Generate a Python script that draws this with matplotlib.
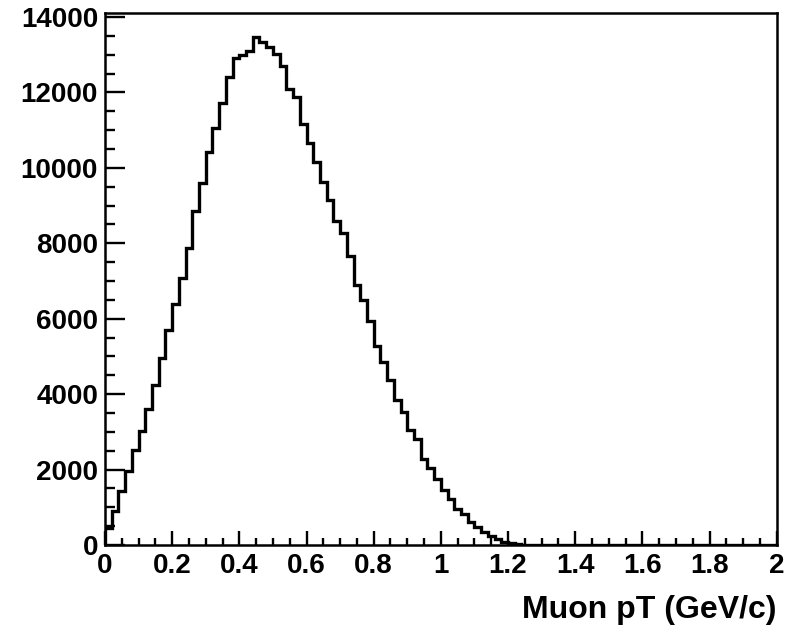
import numpy as np
import matplotlib
matplotlib.use("Agg")
import matplotlib.pyplot as plt
from matplotlib.ticker import MultipleLocator, FormatStrFormatter

# bin contents, 100 bins of 0.02 GeV/c between 0 and 2
counts_low = [450, 900, 1430, 1970, 2520, 3020, 3600, 4240, 4950, 5690,
              6390, 7090, 7870, 8860, 9610, 10410, 11050, 11720, 12420, 12920,
              12990, 13100, 13460, 13330, 13210, 13020, 12690, 12100, 11890, 11170,
              10660, 10170, 9620, 9150, 8580, 8270, 7670, 6900, 6500, 5950,
              5290, 4850, 4380, 3850, 3530, 3050, 2800, 2270, 2030, 1740,
              1460, 1220, 950, 820, 620, 490, 350, 250, 160, 90,
              45, 20, 8, 3]
n_bins = 100
x_min, x_max = 0.0, 2.0
counts = np.concatenate([counts_low, np.zeros(n_bins - len(counts_low))])
edges = np.linspace(x_min, x_max, n_bins + 1)

plt.rcParams['font.family'] = ['Liberation Sans', 'DejaVu Sans']
plt.rcParams['font.weight'] = 'bold'

fig = plt.figure(figsize=(7.91, 6.28), dpi=100)
ax = fig.add_axes([0.1327, 0.1322, 0.982 - 0.1327, 0.9788 - 0.1322])

ax.stairs(counts, edges, color='black', linewidth=2.4, baseline=0)

ax.set_xlim(x_min, x_max)
ax.set_ylim(0, 14100)

ax.xaxis.set_major_locator(MultipleLocator(0.2))
ax.xaxis.set_minor_locator(MultipleLocator(0.05))
ax.yaxis.set_major_locator(MultipleLocator(2000))
ax.yaxis.set_minor_locator(MultipleLocator(500))
ax.xaxis.set_major_formatter(FormatStrFormatter('%g'))

ax.tick_params(axis='both', which='both', direction='in', width=1.7,
               top=False, right=False, labelsize=20)
ax.tick_params(axis='x', which='major', length=10, pad=6)
ax.tick_params(axis='x', which='minor', length=5)
ax.tick_params(axis='y', which='major', length=14.4, pad=5)
ax.tick_params(axis='y', which='minor', length=7.2)

for s in ax.spines.values():
    s.set_linewidth(1.8)

ax.set_xlabel("Muon pT (GeV/c)", fontsize=23, fontweight='bold', loc='right', labelpad=11)

fig.savefig("out.png", dpi=100)
